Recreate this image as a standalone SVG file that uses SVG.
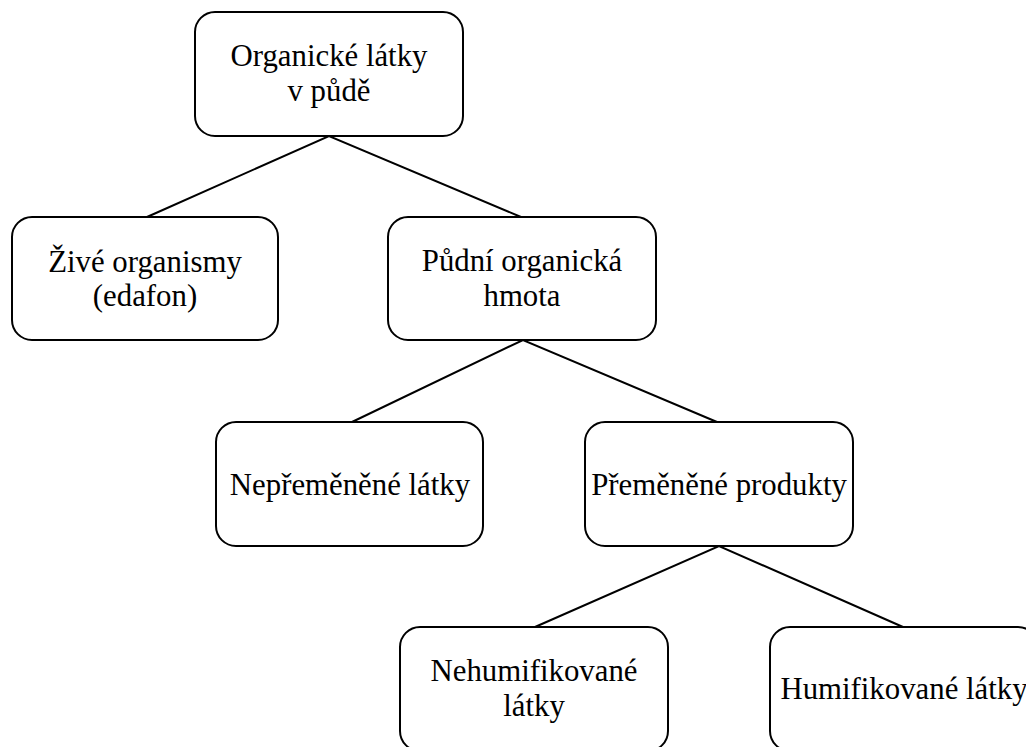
<svg xmlns="http://www.w3.org/2000/svg" width="1026" height="747" viewBox="0 0 1026 747">
<style>
.box{fill:#fff;stroke:#000;stroke-width:2}
.lbl{font-family:"Liberation Serif","Times New Roman",serif;font-size:30.8px;fill:#000;text-anchor:middle}
.con{stroke:#000;stroke-width:2;fill:none}
</style>
<rect width="1026" height="747" fill="#fff"/>
<g id="connectors">
<polyline class="con" points="147,217 329,136 521,217"/>
<polyline class="con" points="352,422 523,340 717,422"/>
<polyline class="con" points="535,627 719,546 903,627"/>
</g>
<g id="n1"><rect class="box" x="195" y="12" width="268" height="124" rx="20"/><text class="lbl" x="329" y="66">Organické látky</text><text class="lbl" x="329" y="101">v půdě</text></g>
<g id="n2"><rect class="box" x="12" y="217" width="266" height="123" rx="20"/><text class="lbl" x="145" y="272">Živé organismy</text><text class="lbl" x="145" y="306">(edafon)</text></g>
<g id="n3"><rect class="box" x="388" y="217" width="268" height="123" rx="20"/><text class="lbl" x="522" y="271">Půdní organická</text><text class="lbl" x="522" y="306">hmota</text></g>
<g id="n4"><rect class="box" x="216" y="422" width="267" height="124" rx="20"/><text class="lbl" x="350" y="495">Nepřeměněné látky</text></g>
<g id="n5"><rect class="box" x="585" y="422" width="268" height="124" rx="20"/><text class="lbl" x="719" y="495">Přeměněné produkty</text></g>
<g id="n6"><rect class="box" x="400" y="627" width="268" height="124" rx="20"/><text class="lbl" x="534" y="681">Nehumifikované</text><text class="lbl" x="534" y="716">látky</text></g>
<g id="n7"><rect class="box" x="770" y="627" width="268" height="124" rx="20"/><text class="lbl" x="904" y="699">Humifikované látky</text></g>
</svg>
